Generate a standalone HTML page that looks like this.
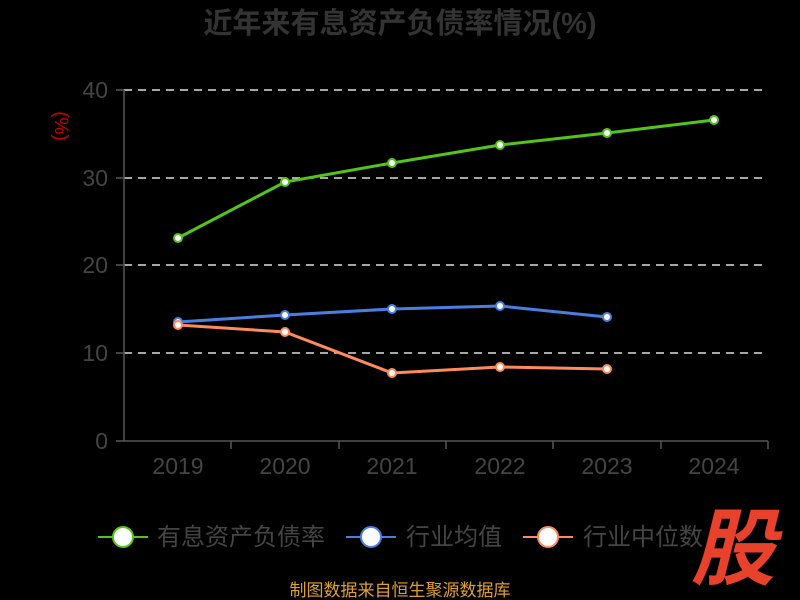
<!DOCTYPE html>
<html><head><meta charset="utf-8"><style>
html,body{margin:0;padding:0;background:#000;}
svg{display:block;font-family:"Liberation Sans","Noto Sans CJK SC",sans-serif;}
</style></head><body>
<svg width="800" height="600" viewBox="0 0 800 600" xmlns="http://www.w3.org/2000/svg">
<rect width="800" height="600" fill="#000"/>
<text x="400" y="33" text-anchor="middle" font-size="29" font-weight="bold" fill="#333">近年来有息资产负债率情况(%)</text>
<text x="62" y="126" text-anchor="middle" font-size="19" fill="#c00" transform="rotate(90 62 126)" dy="7">(%)</text>
<g stroke="#ddd" stroke-width="1.5" stroke-dasharray="8,6">
<line x1="124" y1="90" x2="768" y2="90"/>
<line x1="124" y1="178" x2="768" y2="178"/>
<line x1="124" y1="265" x2="768" y2="265"/>
<line x1="124" y1="353" x2="768" y2="353"/>
</g>
<g stroke="#555" stroke-width="1.5">
<line x1="124" y1="90" x2="124" y2="441"/>
<line x1="124" y1="441" x2="768" y2="441"/>
<line x1="116" y1="90" x2="124" y2="90"/><line x1="116" y1="178" x2="124" y2="178"/>
<line x1="116" y1="265" x2="124" y2="265"/><line x1="116" y1="353" x2="124" y2="353"/>
<line x1="116" y1="441" x2="124" y2="441"/>
<line x1="231" y1="441" x2="231" y2="449"/><line x1="339" y1="441" x2="339" y2="449"/>
<line x1="446" y1="441" x2="446" y2="449"/><line x1="553" y1="441" x2="553" y2="449"/>
<line x1="661" y1="441" x2="661" y2="449"/><line x1="768" y1="441" x2="768" y2="449"/>
</g>
<g font-size="23" fill="#444" text-anchor="end">
<text x="108" y="98">40</text><text x="108" y="186">30</text><text x="108" y="273">20</text>
<text x="108" y="361">10</text><text x="108" y="449">0</text>
</g>
<g font-size="23" fill="#444" text-anchor="middle">
<text x="178" y="474">2019</text><text x="285" y="474">2020</text><text x="392" y="474">2021</text>
<text x="500" y="474">2022</text><text x="607" y="474">2023</text><text x="714" y="474">2024</text>
</g>
<polyline fill="none" stroke="#52c41a" stroke-width="3" points="178,238 285,182 392,163 500,145 607,133 714,120"/>
<polyline fill="none" stroke="#4a7ee0" stroke-width="3" points="178,322 285,315 392,309 500,306 607,317"/>
<polyline fill="none" stroke="#ff8a5b" stroke-width="3" points="178,325 285,332 392,373 500,367 607,369"/>
<g fill="#fff" stroke="#52c41a" stroke-width="2">
<circle cx="178" cy="238" r="4"/><circle cx="285" cy="182" r="4"/><circle cx="392" cy="163" r="4"/>
<circle cx="500" cy="145" r="4"/><circle cx="607" cy="133" r="4"/><circle cx="714" cy="120" r="4"/>
</g>
<g fill="#fff" stroke="#4a7ee0" stroke-width="2">
<circle cx="178" cy="322" r="4"/><circle cx="285" cy="315" r="4"/><circle cx="392" cy="309" r="4"/>
<circle cx="500" cy="306" r="4"/><circle cx="607" cy="317" r="4"/>
</g>
<g fill="#fff" stroke="#ff8a5b" stroke-width="2">
<circle cx="178" cy="325" r="4"/><circle cx="285" cy="332" r="4"/><circle cx="392" cy="373" r="4"/>
<circle cx="500" cy="367" r="4"/><circle cx="607" cy="369" r="4"/>
</g>
<g font-size="24" fill="#444">
<line x1="98" y1="537" x2="148" y2="537" stroke="#52c41a" stroke-width="2"/>
<circle cx="123" cy="537" r="10" fill="#fff" stroke="#52c41a" stroke-width="2"/>
<text x="157" y="545">有息资产负债率</text>
<line x1="346" y1="537" x2="396" y2="537" stroke="#4a7ee0" stroke-width="2"/>
<circle cx="371" cy="537" r="10" fill="#fff" stroke="#4a7ee0" stroke-width="2"/>
<text x="406" y="545">行业均值</text>
<line x1="523" y1="537" x2="573" y2="537" stroke="#ff8a5b" stroke-width="2"/>
<circle cx="548" cy="537" r="10" fill="#fff" stroke="#ff8a5b" stroke-width="2"/>
<text x="583" y="545">行业中位数</text>
</g>
<text x="733" y="578" text-anchor="middle" font-size="84" font-weight="bold" font-style="italic" fill="#e8412c">股</text>
<text x="400" y="596" text-anchor="middle" font-size="17" fill="#e0a030">制图数据来自恒生聚源数据库</text>
</svg>
</body></html>
